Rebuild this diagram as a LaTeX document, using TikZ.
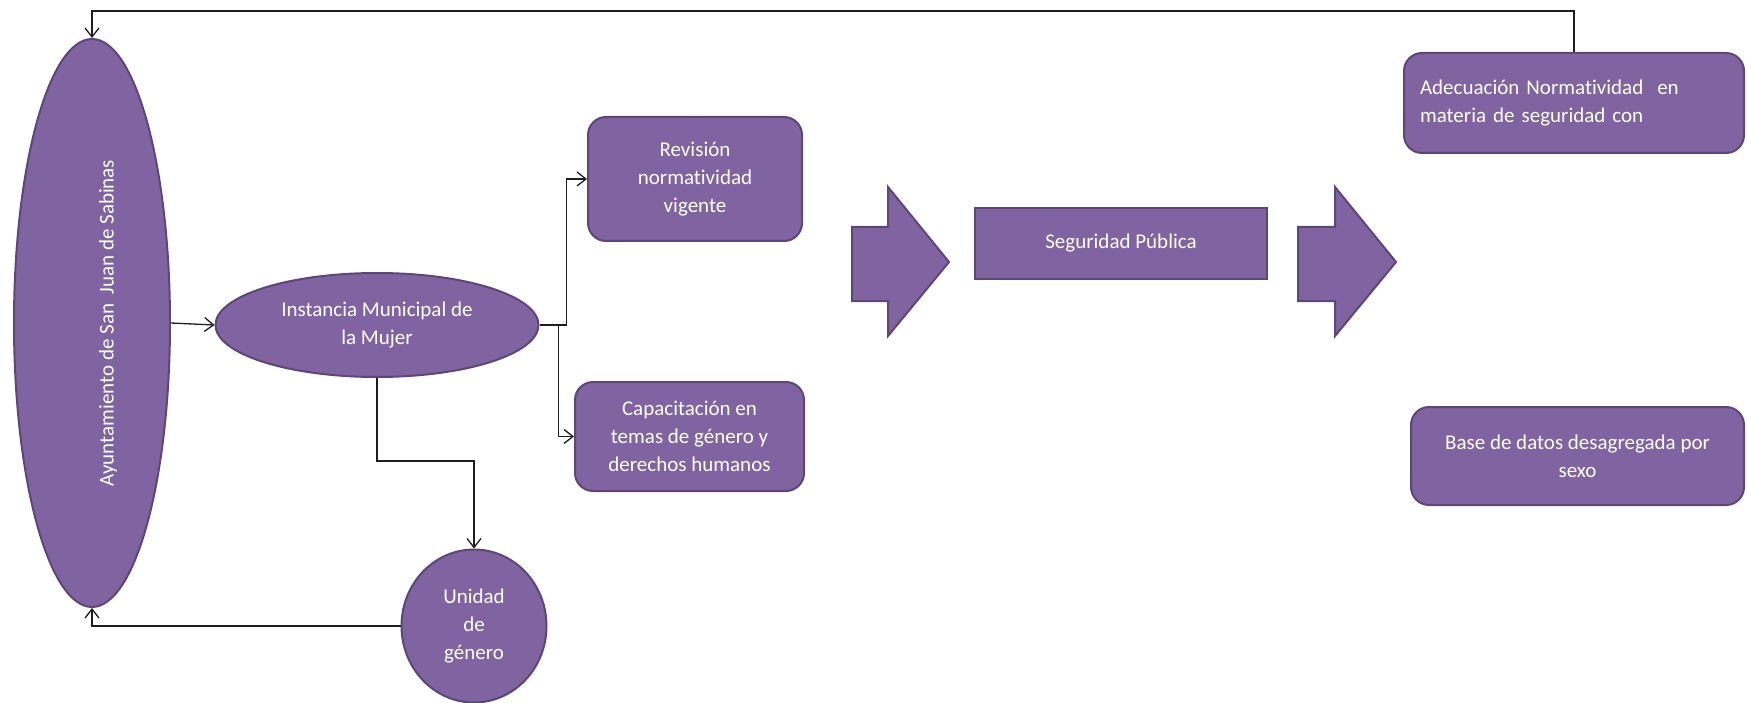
\documentclass[tikz,border=0pt]{standalone}
\usepackage{fontspec}
\setmainfont[Ligatures=NoCommon]{Carlito}
\usetikzlibrary{arrows.meta,shapes.geometric}

\definecolor{boxfill}{HTML}{8064A2}
\definecolor{boxline}{HTML}{5C4776}
\definecolor{linkline}{HTML}{1E1E1E}

\tikzset{
	box/.style={draw=boxline, line width=2pt, fill=boxfill, text=white, align=center, inner sep=0pt, font=\fontsize{21}{28}\selectfont},
	roundbox/.style={box, rectangle, rounded corners=18pt},
	ellbox/.style={box, ellipse},
	link/.style={draw=linkline, line width=1.3pt, -{Straight Barb[length=9pt,width=14pt]}},
	blockarrow/.style={draw=boxline, line width=2pt, fill=boxfill}
}

\begin{document}
\begin{tikzpicture}[x=1pt, y=-1pt]
	\useasboundingbox (0,0) rectangle (1747,703);

	% left column
	\node[ellbox, minimum width=156pt, minimum height=568pt] (ayto) at (92,323) {\hspace*{32pt}\rotatebox{90}{Ayuntamiento de San~ Juan de Sabinas}};
	\node[ellbox, minimum width=323pt, minimum height=104pt] (inst) at (377,325) {Instancia Municipal de\\la Mujer};
	\node[ellbox, minimum width=145pt, minimum height=153pt] (uni) at (474,626) {Unidad\\de\\género};

	% middle boxes
	\node[roundbox, minimum width=214pt, minimum height=124pt] (rev) at (695,179) {Revisión\\normatividad\\vigente};
	\node[roundbox, minimum width=229pt, minimum height=109pt] (cap) at (689.5,436.5) {Capacitación en\\temas de género y\\derechos humanos};
	\node[box, rectangle, minimum width=292pt, minimum height=71pt] (seg) at (1121,243.5) {Seguridad Pública};

	% right boxes
	\node[roundbox, minimum width=340pt, minimum height=100pt, text width=308pt, align=left] (adec) at (1574,103) {Adecuación Normatividad~ en\\materia de seguridad con};
	\node[roundbox, minimum width=333pt, minimum height=98pt] (base) at (1577.5,456) {Base de datos desagregada por\\sexo};

	%draw block arrows
	\foreach \a/\b/\c in {852/888/949, 1298/1335/1396}
		\draw[blockarrow] (\a,227) -- (\b,227) -- (\b,187) -- (\c,262) -- (\b,336) -- (\b,301) -- (\a,301) -- cycle;

	% connectors
	\coordinate (toprow) at (92,11);
	\draw[link] (adec.north) |- (toprow) -- (ayto.north);
	\draw[link] (ayto.east) -- (inst.west);
	\draw[link] (inst.east) -- ++(27,0) |- (rev.west);
	\draw[link] (inst.east) -- ++(19,0) |- (cap.west);
	\draw[link] (inst.south) -- ++(0,83) -| (uni.north);
	\draw[link] (uni.west) -| (ayto.south);

\end{tikzpicture}
\end{document}
